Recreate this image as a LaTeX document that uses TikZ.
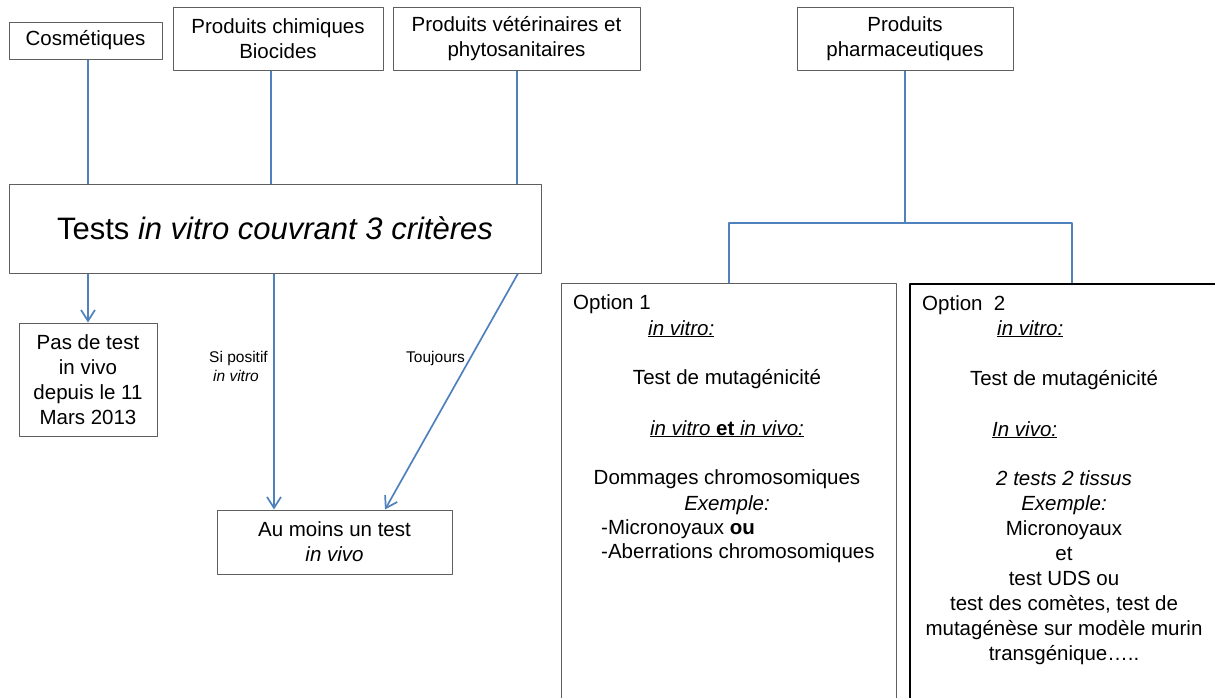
\documentclass[tikz,border=0pt]{standalone}
\usepackage{fontspec}
\setmainfont{Liberation Sans}
\usetikzlibrary{arrows.meta}

\definecolor{linkblue}{RGB}{79,129,189}
\definecolor{boxgray}{RGB}{95,95,95}

\tikzset{
  box/.style={draw=boxgray,line width=1pt,inner sep=0pt,align=center,
    font=\fontsize{20.5}{25}\selectfont},
  optbox/.style={draw=boxgray,line width=1.2pt,anchor=north west,inner sep=0pt,
    minimum width=335pt,minimum height=450pt},
  link/.style={draw=linkblue,line width=1.7pt},
  txt/.style={inner sep=0pt,anchor=base,font=\fontsize{20.5}{25}\selectfont},
  lbl/.style={inner sep=0pt,anchor=north west,align=left,
    font=\fontsize{15.5}{19}\selectfont},
}

\begin{document}
\begin{tikzpicture}[x=1pt,y=-1pt,>={Straight Barb[length=11pt,width=14pt]},line join=bevel]
\useasboundingbox (0,0) rectangle (1215,697);
%%
\node (cosm) at (85.5,40.5) [box,minimum width=153pt,minimum height=37pt] {Cosmétiques};
  \node (chim) at (278,38.5) [box,minimum width=210pt,minimum height=63pt] {Produits chimiques\\Biocides};
  \node (veto) at (516.5,38.5) [box,minimum width=247pt,minimum height=63pt] {Produits vétérinaires et\\phytosanitaires};
  \node (pharma) at (905,38.5) [box,minimum width=216pt,minimum height=63pt] {Produits\\pharmaceutiques};
  \node (invitro) at (275,228.5) [box,minimum width=532pt,minimum height=89pt,font=\fontsize{31}{36}\selectfont] {Tests \textit{in vitro couvrant 3 critères}};
  \node (pastest) at (88,379.5) [box,minimum width=138pt,minimum height=113pt] {Pas de test\\in vivo\\depuis le 11\\Mars 2013};
  \node (invivo) at (334.5,542) [box,minimum width=235pt,minimum height=64pt] {Au moins un test\\\textit{in vivo}};
  \node (opt1) at (561,283) [optbox] {};
  \node (opt2) at (909,283) [optbox,draw=black,line width=1.6pt,minimum width=360pt] {};
%
\node (lblpos) at (209,351.5) [lbl] {Si positif\\\hspace*{4pt}\textit{in vitro}};
  \node (lbltjr) at (406,351.5) [lbl] {Toujours};
%
\node (o1title) at (573,309) [txt,anchor=base west] {Option 1};
  \node (o1vitro) at (648,335) [txt,anchor=base west] {\underline{\textit{in vitro:}}};
  \node (o1muta) at (727,384) [txt] {Test de mutagénicité};
  \node (o1both) at (727,435) [txt] {\underline{\textit{in vitro} \textbf{et} \textit{in vivo:}}};
  \node (o1chrom) at (727,484) [txt] {Dommages chromosomiques};
  \node (o1ex) at (727,510) [txt] {\textit{Exemple:}};
  \node (o1micro) at (601,534) [txt,anchor=base west] {-Micronoyaux \textbf{ou}};
  \node (o1aber) at (601,558) [txt,anchor=base west] {-Aberrations chromosomiques};
%
\node (o2title) at (922,310) [txt,anchor=base west] {Option\ \ 2};
  \node (o2vitro) at (997,335) [txt,anchor=base west] {\underline{\textit{in vitro:}}};
  \node (o2muta) at (1064,385) [txt] {Test de mutagénicité};
  \node (o2vivo) at (992,436) [txt,anchor=base west] {\underline{\textit{In vivo:}}};
  \node (o2tis) at (1064,485) [txt] {\textit{2 tests 2 tissus}};
  \node (o2ex) at (1064,510) [txt] {\textit{Exemple:}};
  \node (o2micro) at (1064,535) [txt] {Micronoyaux};
  \node (o2et) at (1064,560) [txt] {et};
  \node (o2uds) at (1064,585) [txt] {test UDS ou};
  \node (o2com) at (1064,610) [txt] {test des comètes, test de};
  \node (o2mut) at (1064,635) [txt] {mutagénèse sur modèle murin};
  \node (o2trans) at (1064,660) [txt] {transgénique…..};
%
\coordinate (fork) at (905,223);
  \draw [link] ([xshift=2.5pt]cosm.south) -- ([xshift=2.5pt]cosm.south |- invitro.north);
  \draw [link] ([xshift=-7pt]chim.south) -- ([xshift=-7pt]chim.south |- invitro.north);
  \draw [link] ([xshift=0.5pt]veto.south) -- ([xshift=0.5pt]veto.south |- invitro.north);
  \draw [link,->] (pastest.north |- invitro.south) -- (pastest.north);
  \draw [link,->] ([xshift=-60.5pt]invivo.north |- invitro.south) -- ([xshift=-60.5pt]invivo.north);
  \draw [link,->] ([xshift=243pt]invitro.south) -- ([xshift=50.5pt]invivo.north);
  \draw [link] (pharma.south) -- (fork);
  \draw [link] ([xshift=168pt]opt1.north west) |- (fork) -| ([xshift=163pt]opt2.north west);
%
\end{tikzpicture}
\end{document}
